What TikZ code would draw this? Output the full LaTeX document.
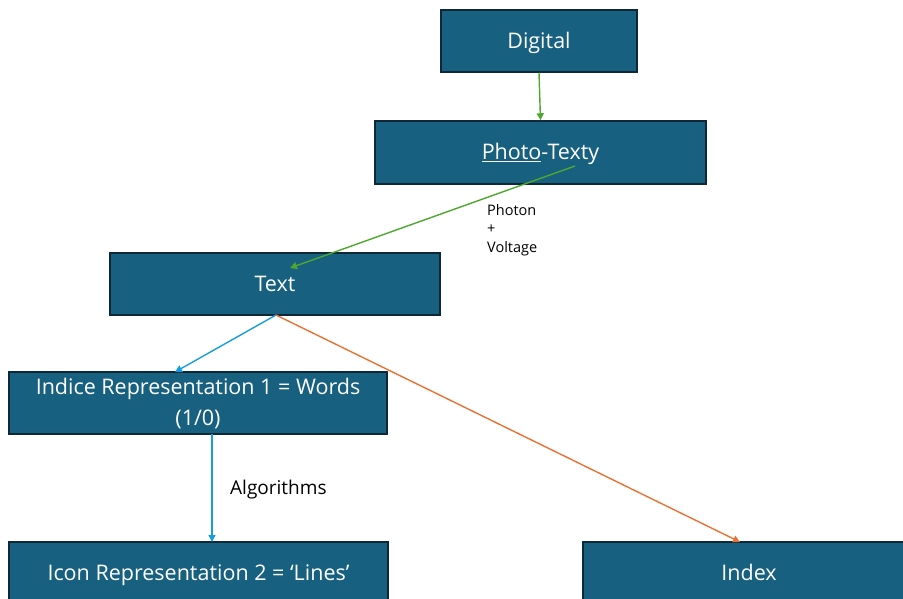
\documentclass[tikz,border=0pt]{standalone}
\usepackage{fontspec}
\setmainfont{Open Sans}
\usetikzlibrary{arrows.meta}
\definecolor{boxfill}{RGB}{23,96,128}
\definecolor{boxline}{RGB}{14,40,56}
\definecolor{agreen}{RGB}{78,167,46}
\definecolor{ablue}{RGB}{21,158,218}
\definecolor{aorange}{RGB}{233,113,50}
\tikzset{
  box/.style={draw=boxline, line width=1.5pt, fill=boxfill, text=white, font=\fontsize{21.5}{30.5}\selectfont, inner sep=0pt, align=center, text height=15pt, text depth=0pt},
  conn/.style={line width=1.4pt, -{Triangle[length=7pt,width=7pt]}},
  lbl/.style={font=\fontsize{19}{19}\selectfont, text=black, inner sep=0pt}
}
\begin{document}
\begin{tikzpicture}[x=1pt,y=-1pt]
\useasboundingbox (0,0) rectangle (903,599);
\begin{scope}
\clip (0,0) rectangle (903,599);
\node[box, minimum width=196pt, minimum height=62pt] (digital) at (539,41) {Digital};
\node[box, minimum width=331pt, minimum height=63pt] (photo) at (540.5,152.5) {\underline{Photo}-Texty};
\node[box, minimum width=330pt, minimum height=62pt] (text) at (275,284) {Text};
\node[box, minimum width=378pt, minimum height=62pt, text height=, text depth=] (indice) at (198,403) {\raisebox{-6pt}[0pt][0pt]{\begin{tabular}{@{}c@{}}Indice Representation 1 = Words\\[1pt](1/0)\end{tabular}}};
\node[box, minimum width=379pt, minimum height=62pt] (icon) at (198.5,573) {Icon Representation 2 = ‘Lines’};
\node[box, minimum width=332pt, minimum height=62pt] (index) at (749,573) {Index};
\end{scope}
\coordinate (pstart) at (575,166);
\coordinate (ttop) at (290,268);
\coordinate (tbot) at (276,315);
\draw[conn, agreen] (digital.south) -- (photo.north);
\draw[conn, agreen] (pstart) -- (ttop);
\draw[conn, ablue] (tbot) -- (175,372) coordinate (itop);
\draw[conn, aorange] (tbot) -- (740,542) coordinate (xtop);
\draw[conn, ablue] (212,434) coordinate (ibot) -- (212,542) coordinate (icontop);
\node[lbl, font=\fontsize{14.5}{18.5}\selectfont, anchor=north west, align=left] (pv) at (487,204) {Photon\\+\\Voltage};
\node[lbl, anchor=west] (alg) at (230,490) {Algorithms};
\end{tikzpicture}
\end{document}
